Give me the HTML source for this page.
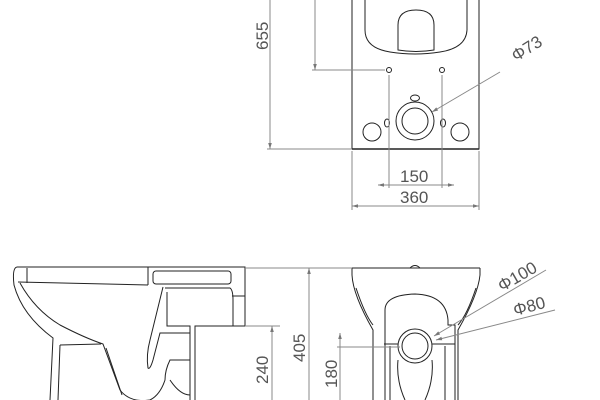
<!DOCTYPE html>
<html><head><meta charset="utf-8"><style>
html,body{margin:0;padding:0;background:#fff;width:600px;height:400px;overflow:hidden}
svg{display:block}
text{font-family:"Liberation Sans",sans-serif;fill:#555;font-size:17px}
</style></head><body>
<svg width="600" height="400" viewBox="0 0 600 400" xmlns="http://www.w3.org/2000/svg">
<defs>
<marker id="a" viewBox="0 0 10 10" refX="10" refY="5" markerWidth="9" markerHeight="6" orient="auto-start-reverse"><path d="M0,2 L10,5 L0,8z" fill="#777"/></marker>
</defs>
<g fill="none" stroke="#222" stroke-width="1">
<path d="M352,0 V149 H479 V0"/>
<path d="M352,149 H479" stroke-width="1.6"/>
<path d="M365,0 V30 Q365,48 390,52 Q415,56 440,52 Q466,48 467,30 V0"/>
<path d="M398,50 V25 Q398,10 416,10 Q434,10 434,25 V50 Q416,53 398,50z"/>
<circle cx="389" cy="70" r="2.5"/><circle cx="442" cy="70" r="2.5"/>
<circle cx="415" cy="121" r="19"/><circle cx="415" cy="121" r="13"/>
<ellipse cx="415" cy="98" rx="4.5" ry="3"/>
<ellipse cx="387" cy="123" rx="2.5" ry="4"/><ellipse cx="443" cy="123" rx="2.5" ry="4"/>
<circle cx="372" cy="132" r="9"/><circle cx="460" cy="132" r="9"/>
<path d="M17,267 H245 V326 H195 V400"/>
<path d="M17,267 Q12,268 14,285 Q22,315 53,338 L50,400"/>
<path d="M27,268 V283"/><path d="M148,267 V285"/>
<path d="M18,282 L148,285"/>
<path d="M20,283 Q35,310 60,325 Q85,338 103,344 L120,390 Q130,403 150,400"/>
<path d="M60,345 L58,400"/><path d="M60,345 L101,344"/><path d="M106,348 L122,395"/>
<rect x="153" y="271" width="78" height="13" rx="3"/>
<path d="M163,287 L150,340 Q146,355 148,368 Q150,370 153,360 L160,333 H190"/>
<path d="M165,288 H230 Q233,290 233,300 V326"/>
<path d="M232,296 H245"/>
<path d="M167,292 V326 H190 V336"/>
<path d="M190,360 H170 Q165,370 165,380 Q160,395 150,400"/>
<path d="M170,380 Q180,395 190,395"/>
<path d="M190,336 V400"/>
<path d="M352,268 H480"/>
<path d="M352,268 V275 Q353,295 373,330 V400"/>
<path d="M480,268 V275 Q478,295 458,330 V400"/>
<path d="M356,288 Q365,315 373,325"/><path d="M476,288 Q467,315 458,325"/>
<path d="M385,400 V310 Q385,295 415,294 Q446,295 448,320 V325 H455 V400"/>
<path d="M384,344 H398"/><path d="M432,344 H455"/>
<path d="M390,346 V400"/><path d="M445,346 V400"/>
<path d="M398,360 Q396,380 405,400"/><path d="M432,360 Q434,380 425,400"/>
<circle cx="415" cy="346" r="17"/><circle cx="415" cy="346" r="13"/>
<path d="M410,268 Q415,263 420,268"/>
</g>
<g fill="none" stroke="#888" stroke-width="1">
<path d="M270,0 V149" marker-end="url(#a)"/>
<path d="M267,149 H352"/>
<path d="M315,0 V70" marker-end="url(#a)"/>
<path d="M312,70 H385"/>
<path d="M389,75 V188"/><path d="M442,75 V188"/>
<path d="M378,185 H454" marker-start="url(#a)" marker-end="url(#a)"/>
<path d="M352,151 V210"/><path d="M479,151 V210"/>
<path d="M352,206 H479" marker-start="url(#a)" marker-end="url(#a)"/>
<path d="M500,72 L432,112" marker-end="url(#a)"/>
<path d="M245,326 H280"/>
<path d="M272,400 V326" marker-end="url(#a)"/>
<path d="M245,268 H352"/>
<path d="M309,400 V268" marker-end="url(#a)"/>
<path d="M337,347 H400"/>
<path d="M340,400 V333" marker-end="url(#a)"/>
<path d="M546,270 L434,336" marker-end="url(#a)"/>
<path d="M555,310 L436,340" marker-end="url(#a)"/>
</g>
<text transform="translate(268,50) rotate(-90)">655</text>
<text x="400" y="182">150</text>
<text x="400" y="203">360</text>
<text transform="translate(516,62) rotate(-32)">Φ73</text>
<text transform="translate(268,384) rotate(-90)">240</text>
<text transform="translate(305,362) rotate(-90)">405</text>
<text transform="translate(337,388) rotate(-90)">180</text>
<text transform="translate(502,292) rotate(-30)">Φ100</text>
<text transform="translate(515,316) rotate(-15)">Φ80</text>
</svg>
</body></html>
